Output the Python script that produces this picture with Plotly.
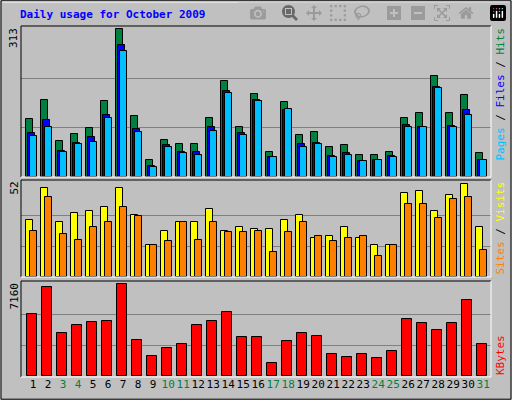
import plotly.graph_objects as go

days = list(range(1, 32))
weekend = {3, 4, 10, 11, 17, 18, 24, 25, 31}
hits = [122,164,77,92,103,162,313,130,35,79,69,71,126,203,107,175,54,160,88,96,64,67,47,47,54,126,135,215,135,173,50]
files = [94,120,56,73,84,132,279,101,24,67,52,52,105,183,94,164,43,143,69,73,45,50,33,37,45,111,107,190,109,141,37]
pages = [86,105,52,69,75,126,268,96,22,64,50,47,98,177,90,162,43,145,64,69,43,47,33,35,43,107,105,188,105,132,35]
visits = [32,50,31,36,37,39,50,35,18,26,31,31,38,26,28,27,27,32,35,22,23,28,22,18,18,47,48,37,46,52,28]
sites = [26,45,24,21,28,31,39,34,18,20,31,21,31,25,25,26,14,25,31,23,20,22,23,12,18,41,41,33,44,45,15]
kbytes = [4808,6925,3397,3946,4181,4259,7160,2848,1594,2221,2535,3946,4259,4965,3083,3083,1045,2770,3319,3162,1751,1516,1751,1437,1986,4416,4103,3554,4103,5906,2535]

fig = go.Figure()
def bar(y, color, off, w, ax):
    fig.add_trace(go.Bar(x=days, y=y, offset=off, width=w, marker=dict(color=color, line=dict(color="black", width=1)), yaxis=ax, xaxis="x", showlegend=False, hoverinfo="skip"))

bar(hits, "#008040", -0.5, 0.47, "y")
bar(files, "#0000FF", -0.37, 0.47, "y")
bar(pages, "#00C0FF", -0.23, 0.47, "y")
bar(visits, "#FFFF00", -0.5, 0.47, "y2")
bar(sites, "#FF8000", -0.23, 0.47, "y2")
bar(kbytes, "#FF0000", -0.43, 0.67, "y3")

H = 400.0
def dom(top, bot):
    return [1 - bot / H, 1 - top / H]

grid = dict(showgrid=True, gridcolor="#808080", gridwidth=1, showticklabels=False, ticks="", zeroline=False, showline=False, fixedrange=True)
xd = [21/512, 491/512]
fig.update_layout(
    width=512, height=400, margin=dict(l=0, r=0, t=0, b=0),
    paper_bgcolor="#C0C0C0", plot_bgcolor="#C0C0C0", barmode="overlay", bargap=0,
    font=dict(family="DejaVu Sans Mono", size=11, color="black"),
    xaxis=dict(domain=xd, range=[0.19, 31.52], anchor="y3", tickvals=days, tickangle=0,
               ticktext=[f'<span style="color:#008040">{d}</span>' if d in weekend else str(d) for d in days],
               showgrid=False, ticks="", showline=False, zeroline=False, tickfont=dict(size=11)),
    yaxis=dict(domain=dom(26, 177), range=[0, 320], tickvals=[313/3, 2*313/3], anchor="x", **grid),
    yaxis2=dict(domain=dom(180, 277), range=[0, 54.4], tickvals=[52/3, 104/3], anchor="x", **grid),
    yaxis3=dict(domain=dom(281, 376), range=[0, 7418], tickvals=[7160/3, 2*7160/3], anchor="x", **grid),
)

shapes = []
shapes.append(dict(type="rect", xref="paper", yref="paper", x0=0.002, x1=0.998, y0=0.002, y1=0.998, line=dict(color="black", width=1)))
shapes.append(dict(type="line", xref="paper", yref="paper", x0=0.004, x1=0.996, y0=0.995, y1=0.995, line=dict(color="white", width=1)))
for top, bot in [(26, 177), (180, 277), (281, 377)]:
    y0 = 1 - bot / H; y1 = 1 - top / H
    shapes.append(dict(type="line", xref="paper", yref="paper", x0=xd[0], x1=xd[1], y0=y1, y1=y1, line=dict(color="black", width=1)))
    shapes.append(dict(type="line", xref="paper", yref="paper", x0=xd[0], x1=xd[0], y0=y0, y1=y1, line=dict(color="black", width=1)))
    shapes.append(dict(type="line", xref="paper", yref="paper", x0=xd[0], x1=xd[1], y0=y0, y1=y0, line=dict(color="white", width=1)))
    shapes.append(dict(type="line", xref="paper", yref="paper", x0=xd[1], x1=xd[1], y0=y0, y1=y1, line=dict(color="white", width=1)))
fig.update_layout(shapes=shapes)

ann = []
ann.append(dict(text="<b>Daily usage for October 2009</b>", x=18/512, y=1-14/H, xref="paper", yref="paper", xanchor="left", yanchor="middle", showarrow=False, font=dict(color="#0000FF", size=11)))
for val, top in [("313", 26), ("52", 180), ("7160", 281)]:
    ann.append(dict(text=val, textangle=-90, x=14/512, y=1-top/H, xref="paper", yref="paper", xanchor="center", yanchor="top", showarrow=False, font=dict(size=11)))
ann.append(dict(text='<span style="color:#00C0FF">Pages</span> / <span style="color:#0000FF">Files</span> / <span style="color:#008040">Hits</span>',
                textangle=-90, x=500/512, y=1-26/H, xref="paper", yref="paper", xanchor="center", yanchor="top", showarrow=False, font=dict(size=11)))
ann.append(dict(text='<span style="color:#FF8000">Sites</span> / <span style="color:#FFFF00">Visits</span>',
                textangle=-90, x=500/512, y=1-277/H, xref="paper", yref="paper", xanchor="center", yanchor="bottom", showarrow=False, font=dict(size=11)))
ann.append(dict(text='<span style="color:#FF0000">KBytes</span>',
                textangle=-90, x=500/512, y=1-377/H, xref="paper", yref="paper", xanchor="center", yanchor="bottom", showarrow=False, font=dict(size=11)))
fig.update_layout(annotations=ann)
fig.write_html("out.html", post_script="document.body.style.margin='0';document.body.style.overflow='hidden';")
